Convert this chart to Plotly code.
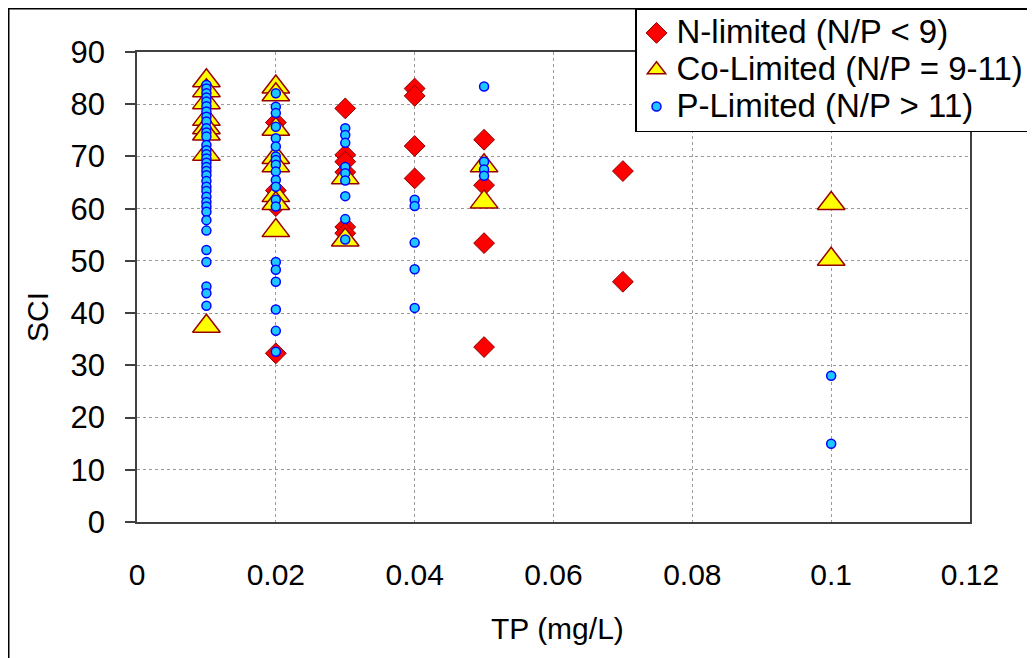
import plotly.graph_objects as go

# ---- data ----
n_tp = [0.02, 0.02, 0.02, 0.02,
        0.03, 0.03, 0.03, 0.03, 0.03, 0.03,
        0.04, 0.04, 0.04, 0.04,
        0.05, 0.05, 0.05, 0.05,
        0.07, 0.07]
n_sci = [76.5, 63.5, 60.5, 32.3,
         79.2, 70.3, 69.0, 67.0, 56.5, 55.3,
         83.0, 81.6, 72.0, 65.8,
         73.2, 64.5, 53.4, 33.5,
         67.2, 46.0]

co_tp = [0.01, 0.01, 0.01, 0.01, 0.01, 0.01, 0.01, 0.01,
         0.02, 0.02, 0.02, 0.02, 0.02, 0.02, 0.02, 0.02,
         0.03, 0.03,
         0.05, 0.05,
         0.1, 0.1]
co_sci = [84.5, 82.6, 80.3, 77.1, 75.5, 74.3, 70.4, 37.5,
          83.3, 81.8, 75.2, 69.8, 68.2, 62.5, 61.0, 55.8,
          65.9, 54.0,
          68.2, 61.3,
          61.0, 50.3]

p_tp = [0.01] * 34 + [0.02] * 20 + [0.03] * 9 + [0.04] * 5 + [0.05] * 4 + [0.1] * 2
p_sci = [83.7, 83.0, 82.1, 81.3, 80.5, 79.6, 78.6, 77.6, 76.7, 75.4, 74.6, 73.8,
         72.2, 71.2, 70.4, 69.6, 68.8, 68.0, 67.2, 66.4, 65.3, 64.2, 63.4, 62.3,
         61.3, 60.4, 59.4, 57.8, 55.8, 52.1, 49.8, 45.1, 43.8, 41.4,
         82.1, 79.5, 78.3, 75.7, 73.5, 71.9, 70.0, 69.3, 68.4, 67.1, 65.5, 64.2,
         61.7, 60.4, 49.8, 48.3, 46.0, 40.7, 36.6, 32.6,
         75.4, 74.1, 72.6, 68.0, 66.8, 65.4, 62.4, 58.0, 54.1,
         61.7, 60.5, 53.5, 48.4, 41.0,
         83.4, 69.0, 67.5, 66.3,
         28.0, 15.0]

series_names = ["N-limited (N/P < 9)", "Co-Limited (N/P = 9-11)", "P-Limited (N/P > 11)"]
x_ticks = [0, 0.02, 0.04, 0.06, 0.08, 0.1, 0.12]
y_ticks = [0, 10, 20, 30, 40, 50, 60, 70, 80, 90]

FONT = "Liberation Sans, Arial, sans-serif"

# page body has an 8px default margin; figure sized so it fills the window
W, H = 1027, 650
L, T, R, B = 129, 44, 65, 136
PW, PH = W - L - R, H - T - B


def big(label):
    # legend rows keep a compact spacing while the text itself is larger
    return '<span style="font-size:33px">' + label + '</span>'


fig = go.Figure()
fig.add_trace(go.Scatter(
    x=n_tp, y=n_sci, mode="markers", name=big(series_names[0]), legendgroup="a",
    marker=dict(symbol="diamond", size=16, color="#FF0000",
                line=dict(color="#8B0000", width=1))))
fig.add_trace(go.Scatter(
    x=co_tp, y=co_sci, mode="markers", name=big(series_names[1]), legendgroup="b",
    marker=dict(symbol="triangle-up", size=24, color="#FFFF00",
                line=dict(color="#990000", width=1.5))))
fig.add_trace(go.Scatter(
    x=p_tp, y=p_sci, mode="markers", name=big(series_names[2]), legendgroup="c",
    marker=dict(symbol="circle", size=9, color="#1EC8FF",
                line=dict(color="#0000FF", width=1.5))))

fig.update_layout(
    width=W, height=H, autosize=False,
    margin=dict(l=L, r=R, t=T, b=B, autoexpand=False),
    paper_bgcolor="white", plot_bgcolor="white",
    font=dict(family=FONT, size=30, color="black"),
    showlegend=True,
    legend=dict(x=(1022 - L) / PW, xanchor="right", y=(PH + T - 0) / PH, yanchor="top",
                bgcolor="white", bordercolor="black", borderwidth=1.5,
                font=dict(family=FONT, size=26, color="black"),
                tracegroupgap=0, traceorder="normal"),
    xaxis=dict(range=[0, 0.12], tickvals=x_ticks, ticktext=[str(v) for v in x_ticks],
               showgrid=True, gridcolor="#9a9a9a", griddash="dot", gridwidth=1,
               zeroline=False, showline=True, linecolor="#404040", linewidth=1.5,
               mirror=True, ticks="", ticklabelstandoff=25, automargin=False,
               tickfont=dict(family=FONT, size=30, color="black")),
    yaxis=dict(range=[0, 90], tickvals=y_ticks,
               showgrid=True, gridcolor="#9a9a9a", griddash="dot", gridwidth=1,
               zeroline=False, showline=True, linecolor="#404040", linewidth=1.5,
               mirror=True, ticks="outside", ticklen=10, tickcolor="#404040",
               tickwidth=1.5, ticklabelstandoff=14, automargin=False,
               tickfont=dict(family=FONT, size=31, color="black")),
    annotations=[
        dict(text="SCI", xref="paper", yref="paper", x=(29 - L) / PW, y=(T + PH - 309) / PH,
             showarrow=False, textangle=-90, xanchor="center", yanchor="middle",
             font=dict(family=FONT, size=30, color="black")),
        dict(text="TP (mg/L)", xref="paper", yref="paper", x=(549 - L) / PW,
             y=(T + PH - 620) / PH,
             showarrow=False, xanchor="center", yanchor="middle",
             font=dict(family=FONT, size=30, color="black")),
    ],
    shapes=[
        dict(type="rect", xref="paper", yref="paper",
             x0=(0.75 - L) / PW, x1=(1025 - L) / PW,
             y0=(T + PH - 700) / PH, y1=(T + PH - 0.75) / PH,
             line=dict(color="black", width=1.5), fillcolor="rgba(0,0,0,0)",
             layer="below"),
    ],
)

fig.write_html("out.html")
